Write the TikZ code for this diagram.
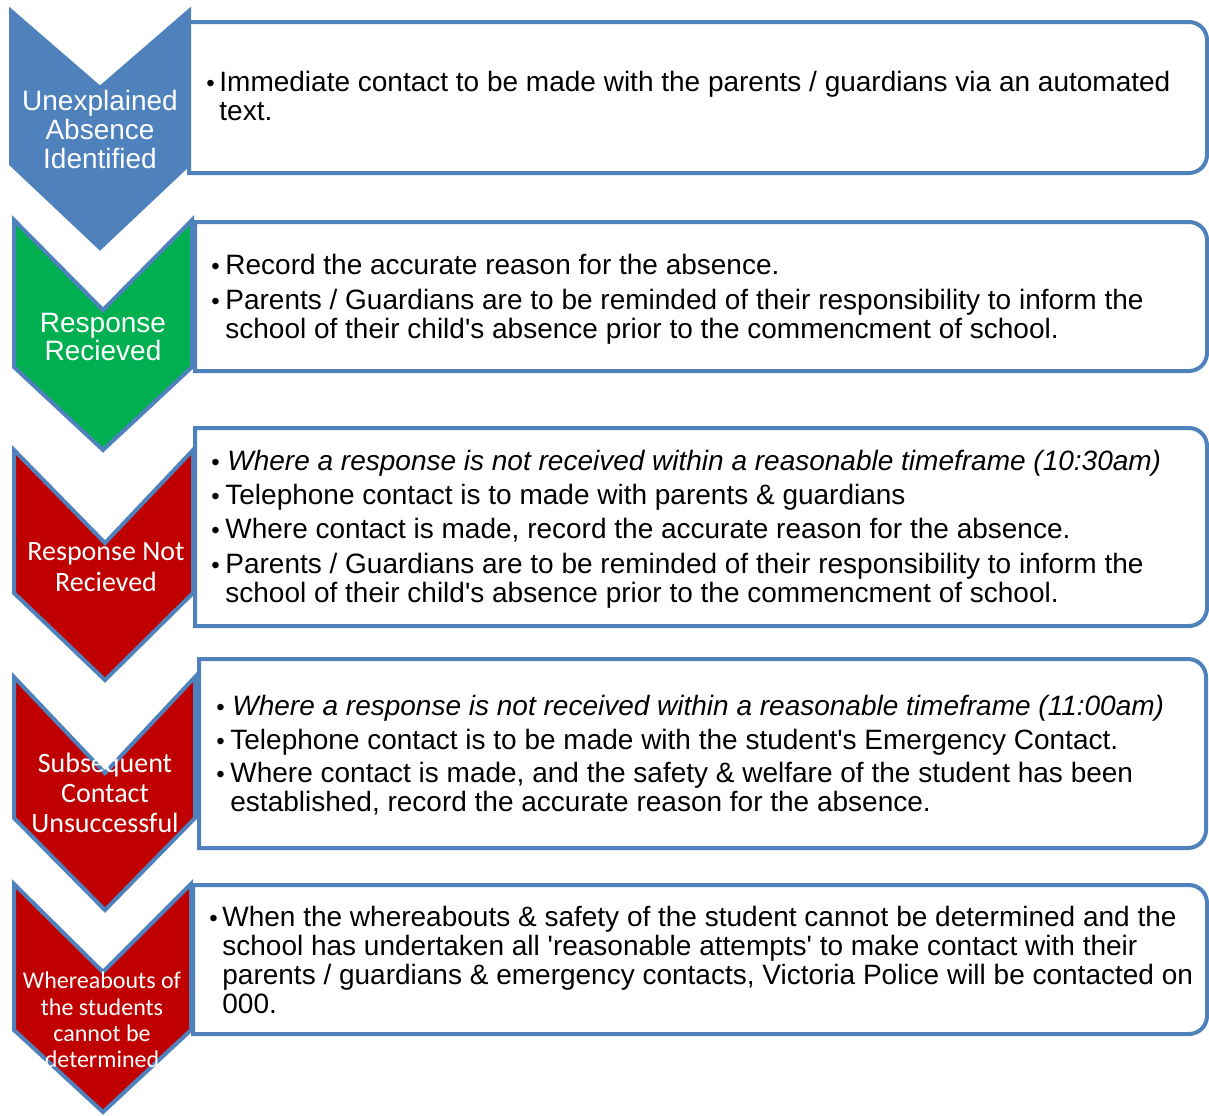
\documentclass[tikz,border=0pt]{standalone}
\usepackage{fontspec}
\setmainfont{Liberation Sans}
\newfontfamily\calfont{Carlito}
\definecolor{flowblue}{HTML}{4F81BD}
\definecolor{flowgreen}{HTML}{00B050}
\definecolor{flowred}{HTML}{C00000}

\begin{document}
\begin{tikzpicture}[x=0.5pt,y=-0.5pt,
  chevron/.style={draw=flowblue,line width=2pt,line join=miter},
  infobox/.style={draw=flowblue,line width=2pt,fill=white},
  steplabel/.style={text=white,anchor=base,inner sep=0pt},
  itemtext/.style={anchor=base west,inner sep=0pt,font=\fontsize{14}{16}\selectfont},
  dot/.style={anchor=base west,inner sep=0pt,font=\fontsize{12}{14}\selectfont}]
  \useasboundingbox (0,0) rectangle (1209,1115);
  % chevrons
  \filldraw[chevron,fill=flowblue] (11,11) -- (100,88) -- (189,11) -- (189,164) -- (100,248) -- (11,164) -- cycle;
  \filldraw[chevron,fill=flowgreen] (14,220) -- (103,310) -- (192,220) -- (192,367) -- (103,450) -- (14,367) -- cycle;
  \filldraw[chevron,fill=flowred] (14,450) -- (105,543) -- (193,450) -- (193,593) -- (105,680) -- (14,593) -- cycle;
  \filldraw[chevron,fill=flowred] (14,677) -- (105,773) -- (195,677) -- (195,818) -- (105,910) -- (14,818) -- cycle;
  \filldraw[chevron,fill=flowred] (14,884) -- (103,972) -- (191,884) -- (191,1030) -- (103,1112) -- (14,1030) -- cycle;
  \node[steplabel,font=\fontsize{14}{16}\selectfont] (unexpl) at (100,110) {Unexplained};
  \node[steplabel,font=\fontsize{14}{16}\selectfont] (absence) at (100,139) {Absence};
  \node[steplabel,font=\fontsize{14}{16}\selectfont] (identified) at (100,168) {Identified};
  \node[steplabel,font=\fontsize{14}{16}\selectfont] (resp) at (103,332) {Response};
  \node[steplabel,font=\fontsize{14}{16}\selectfont] (recv) at (103,360) {Recieved};
  \node[steplabel,font=\calfont\fontsize{14}{16}\selectfont] (respnot) at (106,560) {Response Not};
  \node[steplabel,font=\calfont\fontsize{14}{16}\selectfont] (recvnot) at (106,591) {Recieved};
  \node[steplabel,font=\calfont\fontsize{14}{16}\selectfont] (subseq) at (105,772) {Subsequent};
  \node[steplabel,font=\calfont\fontsize{14}{16}\selectfont] (contact) at (105,802) {Contact};
  \node[steplabel,font=\calfont\fontsize{14}{16}\selectfont] (unsucc) at (105,832) {Unsuccessful};
  \node[steplabel,font=\calfont\fontsize{12}{14}\selectfont] (where) at (102,988) {Whereabouts of};
  \node[steplabel,font=\calfont\fontsize{12}{14}\selectfont] (students) at (102,1015) {the students};
  \node[steplabel,font=\calfont\fontsize{12}{14}\selectfont] (cannot) at (102,1041) {cannot be};
  \node[steplabel,font=\calfont\fontsize{12}{14}\selectfont] (determ) at (102,1067) {determined};
  % boxes, rounded on the right only
  \draw[infobox] (189,22) -- (1100,22) [rounded corners=9pt] -- (1207,22) -- (1207,173) -- (1100,173) [sharp corners] -- (189,173) -- cycle;
  \draw[infobox] (195,222) -- (1100,222) [rounded corners=9pt] -- (1207,222) -- (1207,371) -- (1100,371) [sharp corners] -- (195,371) -- cycle;
  \draw[infobox] (195,428) -- (1100,428) [rounded corners=9pt] -- (1207,428) -- (1207,626) -- (1100,626) [sharp corners] -- (195,626) -- cycle;
  \draw[infobox] (199,659) -- (1100,659) [rounded corners=9pt] -- (1206,659) -- (1206,848) -- (1100,848) [sharp corners] -- (199,848) -- cycle;
  \draw[infobox] (193,885) -- (1100,885) [rounded corners=9pt] -- (1207,885) -- (1207,1034) -- (1100,1034) [sharp corners] -- (193,1034) -- cycle;
  % box 1
  \node[dot] (d1a) at (206,91) {•};
  \node[itemtext] (b1a) at (219,91) {Immediate contact to be made with the parents / guardians via an automated};
  \node[itemtext] (b1b) at (219,120) {text.};
  % box 2
  \node[dot] (d2a) at (211,274) {•};
  \node[itemtext] (b2a) at (225,274) {Record the accurate reason for the absence.};
  \node[dot] (d2b) at (211,309) {•};
  \node[itemtext] (b2b) at (225,309) {Parents / Guardians are to be reminded of their responsibility to inform the};
  \node[itemtext] (b2c) at (225,338) {school of their child\textquotesingle s absence prior to the commencment of school.};
  % box 3
  \node[dot] (d3a) at (211,470) {•};
  \node[itemtext] (b3a) at (227,470) {\itshape Where a response is not received within a reasonable timeframe (10:30am)};
  \node[dot] (d3b) at (211,504) {•};
  \node[itemtext] (b3b) at (225,504) {Telephone contact is to made with parents \& guardians};
  \node[dot] (d3c) at (211,538) {•};
  \node[itemtext] (b3c) at (225,538) {Where contact is made, record the accurate reason for the absence.};
  \node[dot] (d3d) at (211,573) {•};
  \node[itemtext] (b3d) at (225,573) {Parents / Guardians are to be reminded of their responsibility to inform the};
  \node[itemtext] (b3e) at (225,602) {school of their child\textquotesingle s absence prior to the commencment of school.};
  % box 4
  \node[dot] (d4a) at (216,715) {•};
  \node[itemtext] (b4a) at (232,715) {\itshape Where a response is not received within a reasonable timeframe (11:00am)};
  \node[dot] (d4b) at (216,749) {•};
  \node[itemtext] (b4b) at (230,749) {Telephone contact is to be made with the student\textquotesingle s Emergency Contact.};
  \node[dot] (d4c) at (216,782) {•};
  \node[itemtext] (b4c) at (230,782) {Where contact is made, and the safety \& welfare of the student has been};
  \node[itemtext] (b4d) at (230,811) {established, record the accurate reason for the absence.};
  % box 5
  \node[dot] (d5a) at (209,926) {•};
  \node[itemtext] (b5a) at (222,926) {When the whereabouts \& safety of the student cannot be determined and the};
  \node[itemtext] (b5b) at (222,955) {school has undertaken all \textquotesingle reasonable attempts\textquotesingle{} to make contact with their};
  \node[itemtext] (b5c) at (222,984) {parents / guardians \& emergency contacts, Victoria Police will be contacted on};
  \node[itemtext] (b5d) at (222,1013) {000.};
\end{tikzpicture}
\end{document}
